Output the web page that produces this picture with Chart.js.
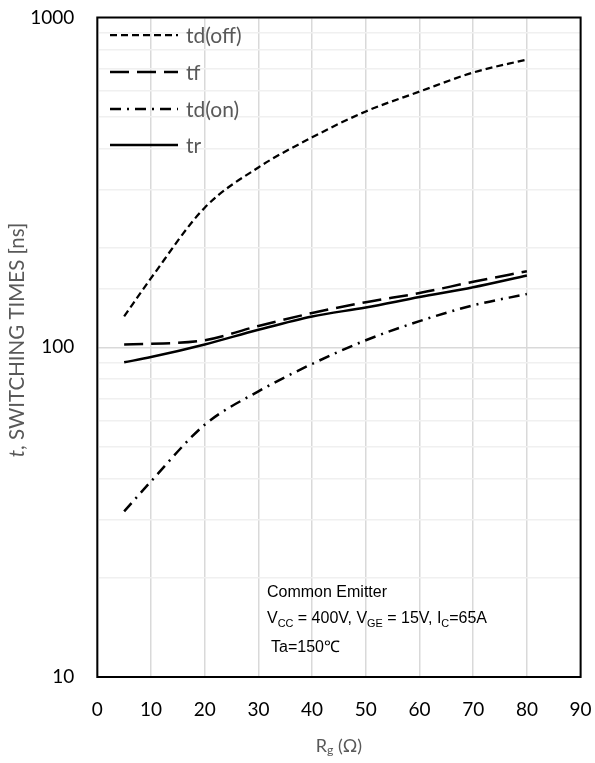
<!DOCTYPE html>
<html>
<head>
<meta charset="utf-8">
<script src="https://cdn.jsdelivr.net/npm/chart.js@4.4.1/dist/chart.umd.min.js"></script>
<style>
  html, body { margin: 0; padding: 0; background: #fff; }
  #wrap { width: 595px; height: 763px; }
</style>
</head>
<body>
<div id="wrap"><canvas id="chart" width="595" height="763"></canvas></div>
<script>
// Gate resistance Rg (ohm)
const rg = [5, 10, 20, 30, 40, 50, 60, 70, 80];

// Switching times (ns)
const tdOff = [124, 162, 265, 351, 433, 519, 596, 681, 746];
const tf    = [102, 102.4, 105, 116, 127, 137, 146, 158, 170];
const tdOn  = [31.8, 39.2, 58.2, 73.5, 89, 105, 120, 134, 145];
const tr    = [90, 93.4, 102, 113, 124, 132, 142, 152, 165];

const seriesNames = ['td(off)', 'tf', 'td(on)', 'tr'];
const labeledYTicks = [10, 100, 1000];

const dashes = [[7, 4], [19, 8], [11, 6, 2, 6], []];
const widths = [2.25, 2.5, 2.5, 2.5];
const seriesData = [tdOff, tf, tdOn, tr];

function points(values) {
    return rg.map((x, i) => ({ x: x, y: values[i] }));
}

// Draw text pieces in a row, some as subscripts
function drawRuns(ctx, x, y, runs, size, family) {
    let cx = x;
    runs.forEach(r => {
        const fs = r.sub ? size * 0.68 : size;
        ctx.font = (r.italic ? 'italic ' : '') + fs + 'px ' + family;
        ctx.fillText(r.t, cx, r.sub ? y + size * 0.25 : y);
        cx += ctx.measureText(r.t).width;
    });
    return cx - x;
}

function measureRuns(ctx, runs, size, family) {
    let w = 0;
    runs.forEach(r => {
        const fs = r.sub ? size * 0.68 : size;
        ctx.font = (r.italic ? 'italic ' : '') + fs + 'px ' + family;
        w += ctx.measureText(r.t).width;
    });
    return w;
}

const decorPlugin = {
    id: 'decor',
    afterDraw(chart) {
        const ctx = chart.ctx;
        const a = chart.chartArea;
        ctx.save();

        // plot frame
        ctx.strokeStyle = '#000';
        ctx.lineWidth = 2;
        ctx.setLineDash([]);
        ctx.strokeRect(a.left, a.top, a.right - a.left, a.bottom - a.top);

        // legend inside the plot
        const legY = [35, 72, 109, 145];
        seriesNames.forEach((name, i) => {
            ctx.beginPath();
            ctx.setLineDash(dashes[i]);
            ctx.lineWidth = widths[i];
            ctx.strokeStyle = '#000';
            ctx.moveTo(110, legY[i]);
            ctx.lineTo(178, legY[i]);
            ctx.stroke();
            ctx.setLineDash([]);
            ctx.fillStyle = '#595959';
            ctx.font = '21px Lato';
            ctx.textBaseline = 'middle';
            ctx.textAlign = 'left';
            ctx.fillText(name, 186, legY[i] + 1);
        });

        // conditions note
        ctx.fillStyle = '#000';
        ctx.textBaseline = 'alphabetic';
        const fam = '"Liberation Sans", Arial, sans-serif';
        drawRuns(ctx, 267, 597, [{ t: 'Common Emitter' }], 16, fam);
        drawRuns(ctx, 267, 623, [
            { t: 'V' }, { t: 'CC', sub: true }, { t: ' = 400V, V' }, { t: 'GE', sub: true },
            { t: ' = 15V, I' }, { t: 'C', sub: true }, { t: '=65A' }
        ], 16, fam);
        drawRuns(ctx, 271, 652, [{ t: 'Ta=150℃' }], 16, fam);

        // y axis title
        const yRuns = [{ t: 't', italic: true }, { t: ', SWITCHING TIMES [ns]' }];
        ctx.fillStyle = '#595959';
        ctx.textBaseline = 'middle';
        ctx.translate(17, 340);
        ctx.rotate(-Math.PI / 2);
        const yw = measureRuns(ctx, yRuns, 20.5, 'Lato');
        drawRuns(ctx, -yw / 2, 0, yRuns, 20.5, 'Lato');
        ctx.setTransform(1, 0, 0, 1, 0, 0);

        // x axis title
        const xRuns = [{ t: 'R' }, { t: 'g', sub: true }, { t: ' (Ω)' }];
        const xw = measureRuns(ctx, xRuns, 18, 'Lato');
        drawRuns(ctx, (a.left + a.right) / 2 - xw / 2, 746, xRuns, 18, 'Lato');

        ctx.restore();
    }
};

const chart = new Chart(document.getElementById('chart'), {
    type: 'line',
    data: {
        datasets: seriesNames.map((name, i) => ({
            label: name,
            data: points(seriesData[i]),
            borderColor: '#000',
            borderWidth: widths[i],
            borderDash: dashes[i],
            pointRadius: 0,
            fill: false,
            cubicInterpolationMode: 'monotone'
        }))
    },
    options: {
        responsive: false,
        animation: false,
        devicePixelRatio: 1,
        layout: { padding: { top: 17.5, right: 14.4, left: 0, bottom: 0 } },
        plugins: {
            legend: { display: false },
            tooltip: { enabled: false }
        },
        scales: {
            x: {
                type: 'linear',
                min: 0,
                max: 90,
                border: { display: false },
                grid: { color: '#d9d9d9', lineWidth: 1.5, drawTicks: false },
                ticks: {
                    stepSize: 10,
                    padding: 21,
                    color: '#000',
                    font: { family: 'Lato', size: 19 },
                    maxRotation: 0
                },
                afterFit(scale) {
                    scale.height = 86;
                    scale.paddingLeft = 0;
                    scale.paddingRight = 0;
                }
            },
            y: {
                type: 'logarithmic',
                min: 10,
                max: 1000,
                border: { display: false },
                grid: {
                    drawTicks: false,
                    lineWidth: 1.5,
                    color: c => (c.tick && c.tick.value === 100) ? '#d9d9d9' : '#f0f0f0'
                },
                ticks: {
                    autoSkip: false,
                    padding: 23,
                    color: '#000',
                    font: { family: 'Lato', size: 19 },
                    callback: v => labeledYTicks.includes(v) ? String(v) : ''
                },
                afterFit(scale) {
                    scale.width = 97.3;
                    scale.paddingTop = 0;
                    scale.paddingBottom = 0;
                }
            }
        }
    },
    plugins: [decorPlugin]
});
</script>
</body>
</html>
